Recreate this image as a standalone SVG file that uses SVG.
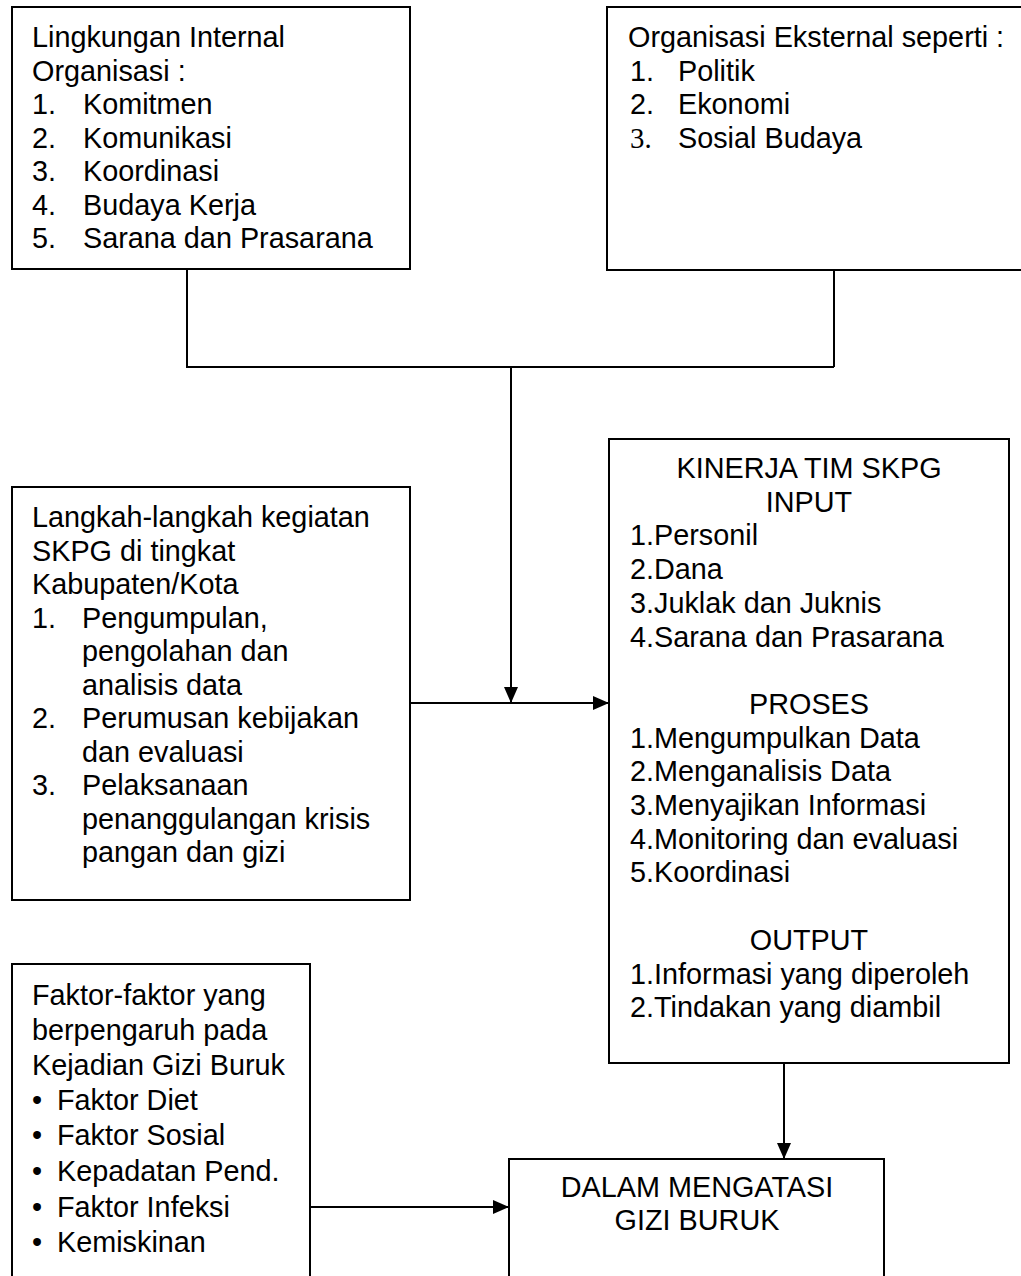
<svg xmlns="http://www.w3.org/2000/svg" width="1021" height="1276" viewBox="0 0 1021 1276">
<style>
  .box { fill: #ffffff; stroke: #000000; stroke-width: 2; }
  .t { font-family: "Liberation Sans", Arial, sans-serif; font-size: 28.8px; fill: #000000; }
  .c { text-anchor: middle; }
  .serif { font-family: "Liberation Serif", "Times New Roman", serif; }
  .conn { fill: none; stroke: #000000; stroke-width: 2; }
</style>
<defs>
  <marker id="arrow" markerUnits="userSpaceOnUse" markerWidth="16" markerHeight="14" refX="16" refY="7" orient="auto">
    <path d="M0,0 L16,7 L0,14 Z" fill="#000000"/>
  </marker>
</defs>
<rect x="0" y="0" width="1021" height="1276" fill="#ffffff"/>

<g id="connectors">
  <path class="conn" d="M187,269 L187,367 L834,367 M834,270 L834,367"/>
  <path class="conn" d="M511,367 L511,703" marker-end="url(#arrow)"/>
  <path class="conn" d="M410,703 L609,703" marker-end="url(#arrow)"/>
  <path class="conn" d="M784,1063 L784,1159" marker-end="url(#arrow)"/>
  <path class="conn" d="M310,1207 L509,1207" marker-end="url(#arrow)"/>
</g>

<g id="internal">
  <rect class="box" x="12" y="7" width="398" height="262"/>
  <text class="t" x="32" y="47">Lingkungan Internal</text>
  <text class="t" x="32" y="80.5">Organisasi :</text>
  <text class="t" y="114"><tspan x="32">1.</tspan><tspan x="83">Komitmen</tspan></text>
  <text class="t" y="147.5"><tspan x="32">2.</tspan><tspan x="83">Komunikasi</tspan></text>
  <text class="t" y="181"><tspan x="32">3.</tspan><tspan x="83">Koordinasi</tspan></text>
  <text class="t" y="214.5"><tspan x="32">4.</tspan><tspan x="83">Budaya Kerja</tspan></text>
  <text class="t" y="248"><tspan x="32">5.</tspan><tspan x="83">Sarana dan Prasarana</tspan></text>
</g>

<g id="external">
  <rect class="box" x="607" y="7" width="430" height="263"/>
  <text class="t" x="628" y="47">Organisasi Eksternal seperti :</text>
  <text class="t" y="80.5"><tspan x="630">1.</tspan><tspan x="678">Politik</tspan></text>
  <text class="t" y="114"><tspan x="630">2.</tspan><tspan x="678">Ekonomi</tspan></text>
  <text class="t" y="147.5"><tspan x="630" class="serif">3.</tspan><tspan x="678">Sosial Budaya</tspan></text>
</g>

<g id="langkah">
  <rect class="box" x="12" y="487" width="398" height="413"/>
  <text class="t" x="32" y="527">Langkah-langkah kegiatan</text>
  <text class="t" x="32" y="560.5">SKPG di tingkat</text>
  <text class="t" x="32" y="594">Kabupaten/Kota</text>
  <text class="t" y="627.5"><tspan x="32">1.</tspan><tspan x="82">Pengumpulan,</tspan></text>
  <text class="t" x="82" y="661">pengolahan dan</text>
  <text class="t" x="82" y="694.5">analisis data</text>
  <text class="t" y="728"><tspan x="32">2.</tspan><tspan x="82">Perumusan kebijakan</tspan></text>
  <text class="t" x="82" y="761.5">dan evaluasi</text>
  <text class="t" y="795"><tspan x="32">3.</tspan><tspan x="82">Pelaksanaan</tspan></text>
  <text class="t" x="82" y="828.5">penanggulangan krisis</text>
  <text class="t" x="82" y="862">pangan dan gizi</text>
</g>

<g id="kinerja">
  <rect class="box" x="609" y="439" width="400" height="624"/>
  <text class="t c" x="809" y="478">KINERJA TIM SKPG</text>
  <text class="t c" x="809" y="511.7">INPUT</text>
  <text class="t" x="630" y="545.4">1.Personil</text>
  <text class="t" x="630" y="579">2.Dana</text>
  <text class="t" x="630" y="612.8">3.Juklak dan Juknis</text>
  <text class="t" x="630" y="646.5">4.Sarana dan Prasarana</text>
  <text class="t c" x="809" y="713.9">PROSES</text>
  <text class="t" x="630" y="747.6">1.Mengumpulkan Data</text>
  <text class="t" x="630" y="781.3">2.Menganalisis Data</text>
  <text class="t" x="630" y="815">3.Menyajikan Informasi</text>
  <text class="t" x="630" y="848.7">4.Monitoring dan evaluasi</text>
  <text class="t" x="630" y="882.4">5.Koordinasi</text>
  <text class="t c" x="809" y="949.8">OUTPUT</text>
  <text class="t" x="630" y="983.5">1.Informasi yang diperoleh</text>
  <text class="t" x="630" y="1017.2">2.Tindakan yang diambil</text>
</g>

<g id="faktor">
  <rect class="box" x="12" y="964" width="298" height="330"/>
  <text class="t" x="32" y="1005">Faktor-faktor yang</text>
  <text class="t" x="32" y="1040">berpengaruh pada</text>
  <text class="t" x="32" y="1075">Kejadian Gizi Buruk</text>
  <text class="t" y="1110"><tspan x="32">•</tspan><tspan x="57">Faktor Diet</tspan></text>
  <text class="t" y="1145"><tspan x="32">•</tspan><tspan x="57">Faktor Sosial</tspan></text>
  <text class="t" y="1181"><tspan x="32">•</tspan><tspan x="57">Kepadatan Pend.</tspan></text>
  <text class="t" y="1217"><tspan x="32">•</tspan><tspan x="57">Faktor Infeksi</tspan></text>
  <text class="t" y="1252"><tspan x="32">•</tspan><tspan x="57">Kemiskinan</tspan></text>
</g>

<g id="dalam">
  <rect class="box" x="509" y="1159" width="375" height="140"/>
  <text class="t c" x="697" y="1197">DALAM MENGATASI</text>
  <text class="t c" x="697" y="1230">GIZI BURUK</text>
</g>
</svg>
